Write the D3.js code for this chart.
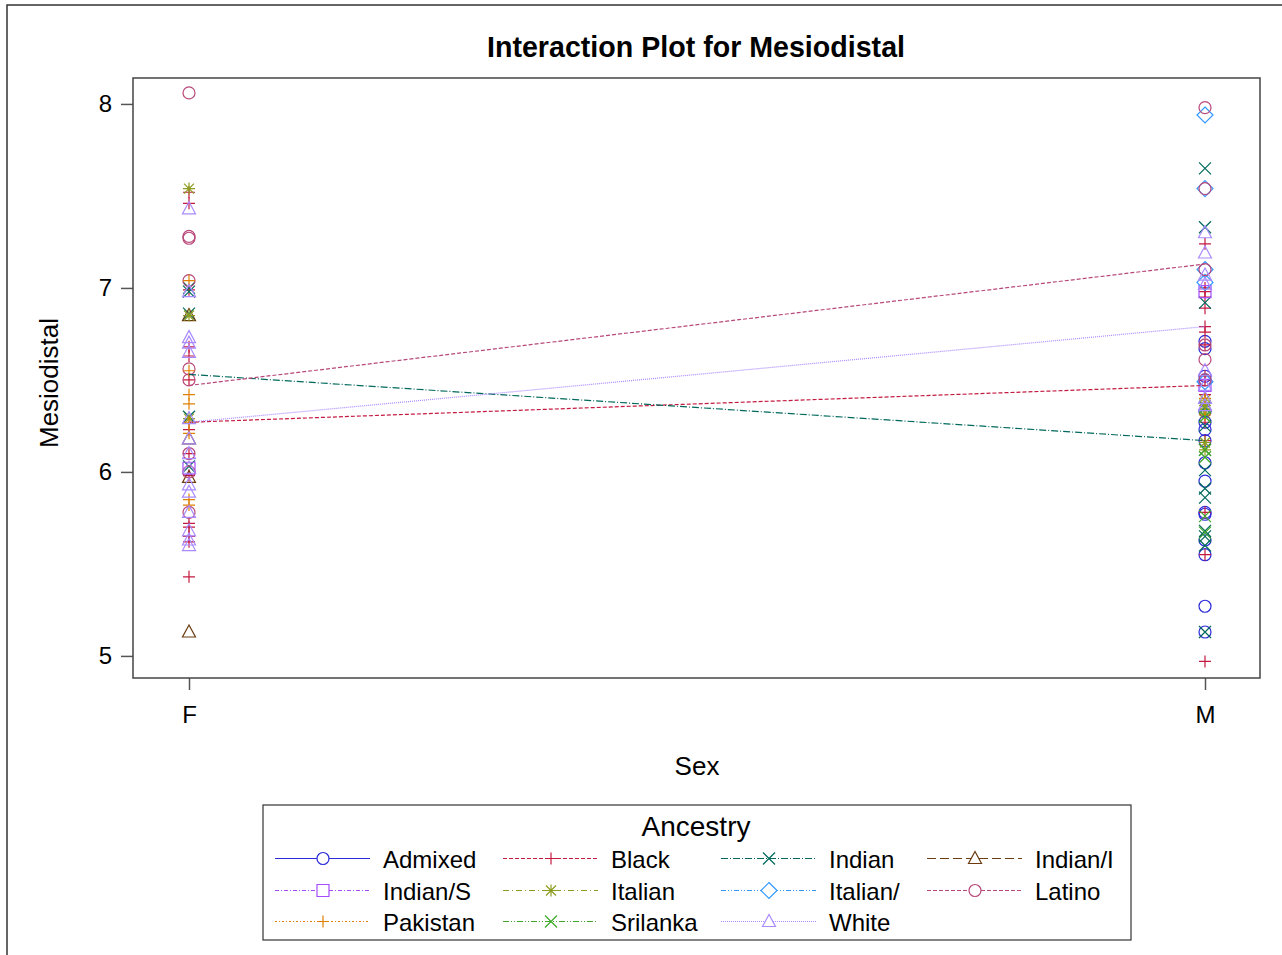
<!DOCTYPE html>
<html>
<head>
<meta charset="utf-8">
<script src="https://cdn.jsdelivr.net/npm/d3@7"></script>
<style>
  body { margin: 0; background: #fff; }
  svg text { font-family: Arial, "Liberation Sans", sans-serif; fill: #000; }
</style>
</head>
<body>
<svg id="chart" width="1282" height="955"></svg>
<script>
// ---- data ----
const sexes = ["F", "M"];
const yTicks = [5, 6, 7, 8];
const ancestries = ["Admixed", "Black", "Indian", "Indian/I", "Indian/S", "Italian",
                    "Italian/", "Latino", "Pakistan", "Srilanka", "White"];

// observations per ancestry, female then male
const admixedF = [];
const admixedM = [6.71, 6.67, 6.52, 6.50, 6.33, 6.27, 6.23, 6.17, 6.05, 5.95, 5.78, 5.77, 5.63, 5.55, 5.27, 5.13];
const blackF = [7.52, 7.46, 6.99, 6.68, 6.63, 6.50, 6.23, 6.10, 5.98, 5.72, 5.70, 5.65, 5.62, 5.43];
const blackM = [7.24, 7.00, 6.98, 6.95, 6.89, 6.79, 6.76, 6.69, 6.52, 6.50, 6.42, 6.27, 6.17, 5.78, 5.55, 4.97];
const indianF = [7.00, 6.98, 6.86, 6.30, 6.03];
const indianM = [7.65, 7.33, 6.92, 6.35, 6.25, 6.12, 6.01, 5.91, 5.86, 5.68, 5.65, 5.60, 5.13];
const indianIF = [6.85, 6.18, 5.97, 5.13];
const indianIM = [];
const indianSF = [6.02];
const indianSM = [6.98, 6.47];
const italianF = [7.54, 6.85, 6.29];
const italianM = [6.39, 6.36, 6.32, 6.16, 6.12];
const italianSlashF = [];
const italianSlashM = [7.94, 7.54, 7.10, 7.03, 6.49];
const latinoF = [8.06, 7.28, 7.27, 7.04, 6.56, 6.50, 6.10, 6.00, 5.78];
const latinoM = [7.98, 7.54, 7.10, 6.69, 6.61, 6.50];
const pakistanF = [7.04, 6.55, 6.42, 6.37, 6.27, 6.21, 5.85, 5.82];
const pakistanM = [6.40, 6.31];
const srilankaF = [];
const srilankaM = [6.30, 6.12, 6.08, 5.76, 5.67];
const whiteF = [7.43, 6.98, 6.73, 6.70, 6.65, 6.29, 6.18, 6.10, 6.02, 5.93, 5.89, 5.78, 5.68, 5.63, 5.60];
const whiteM = [7.30, 7.19, 7.07, 7.02, 6.55, 6.47, 6.40, 6.36];

// mean lines (the only ones drawn in the plot)
const lineGroups = ["Black", "Indian", "Latino", "White"];
const meanF = [6.27, 6.53, 6.47, 6.27];
const meanM = [6.47, 6.17, 7.13, 6.79];

const obs = {
  "Admixed": [admixedF, admixedM], "Black": [blackF, blackM], "Indian": [indianF, indianM],
  "Indian/I": [indianIF, indianIM], "Indian/S": [indianSF, indianSM], "Italian": [italianF, italianM],
  "Italian/": [italianSlashF, italianSlashM], "Latino": [latinoF, latinoM],
  "Pakistan": [pakistanF, pakistanM], "Srilanka": [srilankaF, srilankaM], "White": [whiteF, whiteM]
};

// ---- styles ----
var styles = {
  "Admixed":  { color: "#2a2ad8", dash: null,          symbol: "circle" },
  "Black":    { color: "#c41a40", dash: "4,2",         symbol: "plus" },
  "Indian":   { color: "#00695c", dash: "7,2,1,2",     symbol: "x" },
  "Indian/I": { color: "#6b3c10", dash: "9,4",         symbol: "triangle" },
  "Indian/S": { color: "#a64dff", dash: "4,2,1,2",     symbol: "square" },
  "Italian":  { color: "#8c9c20", dash: "6,3,1,3",     symbol: "asterisk" },
  "Italian/": { color: "#3399ff", dash: "5,2,1,2,1,2", symbol: "diamond" },
  "Latino":   { color: "#b8487a", dash: "4,2",         symbol: "circle" },
  "Pakistan": { color: "#e08000", dash: "2,2,1,2",     symbol: "plus" },
  "Srilanka": { color: "#3fa82a", dash: "6,2,1,2,1,2", symbol: "x" },
  "White":    { color: "#a98aff", dash: "1,1",         symbol: "triangle" }
};

const symbolPath = {
  circle: "M6,0A6,6 0 1,1 -6,0A6,6 0 1,1 6,0Z",
  plus: "M-6,0H6M0,-6V6",
  x: "M-6,-6L6,6M-6,6L6,-6",
  triangle: "M0,-7L6.5,5H-6.5Z",
  square: "M-6,-6H6V6H-6Z",
  diamond: "M0,-8L8,0L0,8L-8,0Z",
  asterisk: "M-6,0H6M0,-6V6M-5,-5L5,5M-5,5L5,-5"
};

const svg = d3.select("#chart");

// outer border
svg.append("rect")
    .attr("x", 7).attr("y", 5).attr("width", 1400).attr("height", 1100)
    .attr("fill", "none").attr("stroke", "#333").attr("stroke-width", 1.5);

const frame = { left: 133, top: 78, right: 1260, bottom: 678 };

const x = d3.scalePoint().domain(sexes).range([189, 1205]);
const y = d3.scaleLinear().domain([4.880, 8.141]).range([frame.bottom, frame.top]);

// title
svg.append("text")
    .attr("x", 696).attr("y", 57)
    .attr("text-anchor", "middle")
    .style("font-size", "30px").style("font-weight", "bold")
    .attr("textLength", 418).attr("lengthAdjust", "spacingAndGlyphs")
    .text("Interaction Plot for Mesiodistal");

// axes
var yAxis = svg.append("g")
    .attr("transform", `translate(${frame.left},0)`)
    .call(d3.axisLeft(y).tickValues(yTicks).tickSize(12).tickPadding(9).tickFormat(d3.format("d")));
var xAxis = svg.append("g")
    .attr("transform", `translate(0,${frame.bottom})`)
    .call(d3.axisBottom(x).tickSize(12).tickPadding(16));
[yAxis, xAxis].forEach(function(a) {
  a.select(".domain").remove();
  a.selectAll("line").attr("stroke", "#555").attr("stroke-width", 1.5);
  a.selectAll("text").style("font-size", "24px").style("font-family", "Arial, 'Liberation Sans', sans-serif").attr("fill", "#000");
});

svg.append("rect")
    .attr("x", frame.left).attr("y", frame.top)
    .attr("width", frame.right - frame.left).attr("height", frame.bottom - frame.top)
    .attr("fill", "none").attr("stroke", "#444").attr("stroke-width", 1.5);

svg.append("text")
    .attr("transform", "translate(58,383) rotate(-90)")
    .attr("text-anchor", "middle")
    .style("font-size", "26px")
    .text("Mesiodistal");

svg.append("text")
    .attr("x", 697).attr("y", 775)
    .attr("text-anchor", "middle")
    .style("font-size", "26px")
    .text("Sex");

// points
var plot = svg.append("g");
ancestries.forEach(function(a) {
  const st = styles[a];
  sexes.forEach(function(s, i) {
    plot.selectAll(null)
      .data(obs[a][i])
      .enter().append("path")
        .attr("d", symbolPath[st.symbol])
        .attr("transform", (d) => `translate(${x(s)},${y(d)})`)
        .attr("fill", "none")
        .attr("stroke", st.color)
        .attr("stroke-width", 1.2);
  });
});

// mean lines
plot.selectAll("line.mean")
  .data(lineGroups)
  .enter().append("line")
    .attr("class", "mean")
    .attr("x1", x("F")).attr("x2", x("M"))
    .attr("y1", (d, i) => y(meanF[i]))
    .attr("y2", (d, i) => y(meanM[i]))
    .attr("stroke", (d) => styles[d].color)
    .attr("stroke-width", 1.2)
    .attr("stroke-dasharray", (d) => styles[d].dash);

// legend
var legend = svg.append("g");
legend.append("rect")
    .attr("x", 263).attr("y", 805).attr("width", 868).attr("height", 135)
    .attr("fill", "none").attr("stroke", "#333").attr("stroke-width", 1.2);
legend.append("text")
    .attr("x", 696).attr("y", 836)
    .attr("text-anchor", "middle")
    .style("font-size", "28px")
    .text("Ancestry");

const colX = [275, 503, 721, 927];
const rowY = [858.5, 890.5, 921.5];

var items = legend.selectAll("g.item")
  .data(ancestries)
  .enter().append("g")
    .attr("class", "item")
    .attr("transform", (d, i) => `translate(${colX[i % 4]},${rowY[Math.floor(i / 4)]})`);

items.append("line")
    .attr("x1", 0).attr("x2", 95)
    .attr("stroke", (d) => styles[d].color)
    .attr("stroke-width", 1)
    .attr("stroke-dasharray", (d) => styles[d].dash);
items.append("path")
    .attr("d", (d) => symbolPath[styles[d].symbol])
    .attr("transform", "translate(48,0)")
    .attr("fill", "white")
    .attr("stroke", (d) => styles[d].color)
    .attr("stroke-width", 1.2);
items.append("text")
    .attr("x", 108).attr("y", 9)
    .style("font-size", "24px")
    .text((d) => d);
</script>
</body>
</html>
